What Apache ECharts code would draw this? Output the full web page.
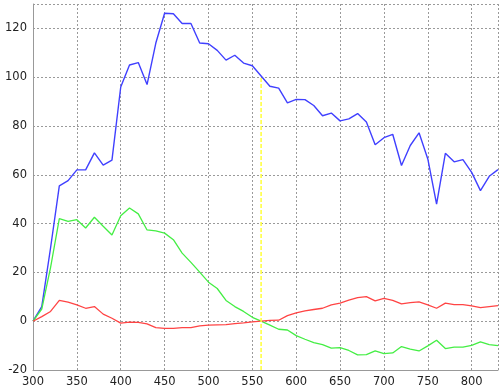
<!DOCTYPE html>
<html><head><meta charset="utf-8">
<script src="https://cdn.jsdelivr.net/npm/echarts@6/dist/echarts.min.js"></script>
<style>html,body{margin:0;padding:0;background:#fff}#c{width:500px;height:392px}</style>
</head><body><div id="c"></div>
<script>
const xs = [300,310,320,330,340,350,360,370,380,390,400,410,420,430,440,450,460,470,480,490,500,510,520,530,540,550,560,570,580,590,600,610,620,630,640,650,660,670,680,690,700,710,720,730,740,750,760,770,780,790,800,810,820,830];
const blue = [0,6,30,55.5,57.6,62,62,69,64,66,96,105,106,97,114,126.2,126,122,122,114,113.7,111,107,109,105.8,104.7,100.5,96.3,95.5,89.5,90.9,90.8,88.4,84.2,85.3,82.1,82.9,85.1,81.6,72.3,75.2,76.6,63.8,72,77.2,66.5,48,68.8,65.3,66.2,61,53.5,59.4,62.1];
const green = [0,5,22,42,40.9,41.6,38.2,42.6,38.9,35.3,43.2,46.4,44,37.4,37,36.1,33.4,27.9,24.1,20.1,16,13.4,8.5,6,4,1.6,0,-1.6,-3.3,-3.6,-5.9,-7.4,-8.8,-9.6,-11,-10.8,-12,-13.8,-13.7,-12.2,-13.3,-13,-10.4,-11.4,-12.2,-10.1,-7.8,-11.2,-10.6,-10.6,-9.9,-8.5,-9.6,-10];
const red = [0,1.9,4,8.5,7.8,6.7,5.3,6,2.9,1.2,-0.8,-0.4,-0.5,-1.1,-2.6,-2.9,-2.9,-2.6,-2.6,-1.9,-1.6,-1.5,-1.4,-1,-0.7,-0.3,0,0.3,0.4,2.3,3.4,4.2,4.8,5.3,6.7,7.4,8.6,9.7,10.1,8.3,9.4,8.5,7.1,7.6,7.9,6.7,5.3,7.4,6.8,6.8,6.3,5.6,6,6.4];
const markerX = [560,560];
const markerY = [-20,100.5];

const pairs = arr => arr.map((v,i)=>[xs[i],v]);
const chart = echarts.init(document.getElementById('c'));
const font = {fontFamily:'DejaVu Sans, sans-serif', fontSize:11.5, color:'#222'};
const split = {show:true, lineStyle:{color:'#9a9a9a', type:[2,2], width:1}};
chart.setOption({
  animation:false,
  grid:{left:33, right:2, top:4, bottom:22, containLabel:false},
  xAxis:{type:'value', min:300, max:830, interval:50,
    axisLine:{show:true, onZero:false, lineStyle:{color:'#999', width:1}},
    axisTick:{show:false},
    axisLabel:Object.assign({margin:6, showMaxLabel:false}, font),
    splitLine:split},
  yAxis:{type:'value', min:-20, max:130, interval:20,
    axisLine:{show:true, onZero:false, lineStyle:{color:'#999', width:1}},
    axisTick:{show:false},
    axisLabel:Object.assign({margin:6, showMaxLabel:false}, font),
    splitLine:split},
  series:[
    {type:'line', data:pairs(blue), showSymbol:false, lineStyle:{color:'#4040ff', width:1.4}},
    {type:'line', data:pairs(green), showSymbol:false, lineStyle:{color:'#44ee44', width:1.3}},
    {type:'line', data:pairs(red), showSymbol:false, lineStyle:{color:'#ff4444', width:1.3}},
    {type:'line', data:markerX.map((x,i)=>[x,markerY[i]]), showSymbol:false, lineStyle:{color:'#ffff44', width:1.6, type:[4,2]}}
  ]
});
</script></body></html>
